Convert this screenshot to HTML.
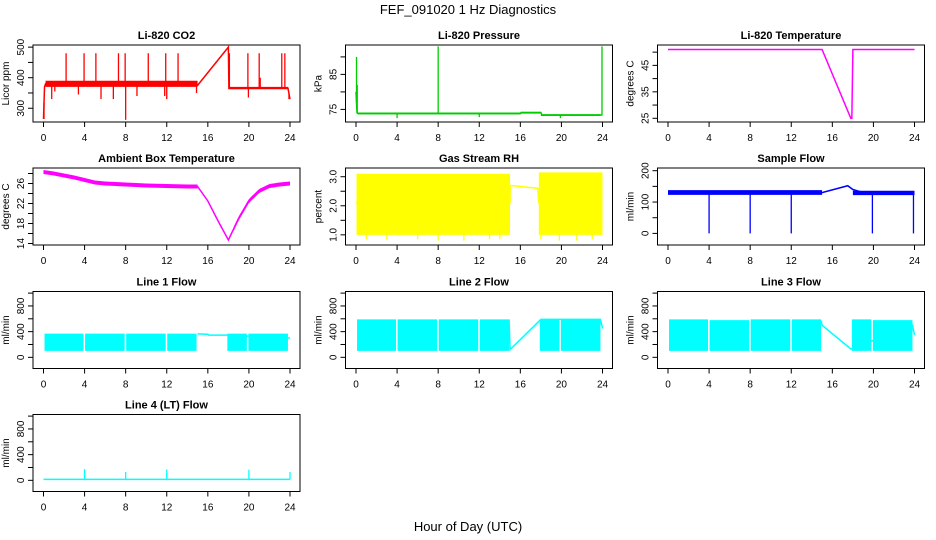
<!DOCTYPE html>
<html><head><meta charset="utf-8">
<style>
html,body{margin:0;padding:0;background:#fff;}
svg{display:block;font-family:"Liberation Sans",sans-serif;}
</style></head>
<body>
<svg id="fig" width="936" height="540" viewBox="0 0 936 540" xmlns="http://www.w3.org/2000/svg">
<rect width="936" height="540" fill="#fff"/>
<text x="468" y="14" text-anchor="middle" font-size="13">FEF_091020  1 Hz Diagnostics</text>
<text x="468" y="531" text-anchor="middle" font-size="13">Hour of Day (UTC)</text>
</svg>
<script>
const xTicks = [0,4,8,12,16,20,24];

// ---- CO2 ----
const co2LineH = [0,0.1,0.2,15,18,18.05,23.8,24];
const co2LineV = [265,370,380,375,500,365,366,330];
const co2Bands = [[0.2,15,370,390],[18.05,23.8,362,370]];
const co2SpikeH = [0.05,2.2,3.95,5.1,7.3,7.95,8,10.2,11.9,13.1,5.6,3.4,6.8,12,14.9,0.8,18.1,19.9,19.95,21,21.1,23.2,23.5,23.9,1.1,9.1,11.8];
const co2SpikeV = [265,480,480,480,480,480,262,480,480,480,330,345,330,330,350,330,480,480,335,480,400,480,480,330,355,340,340];
// ---- Pressure ----
const presLineH = [0,0.1,0.2,16,16.1,18,18.1,24];
const presLineV = [80,74,73.8,73.8,74.1,74.1,73.4,73.4];
const presBands = [[0.2,16,73.6,74.1],[16,18,73.8,74.3],[18,23.8,73.1,73.6]];
const presSpikeH = [0.05,0.12,8,23.95,4,12,19.9];
const presSpikeV = [90,82,93,93,72.5,72.8,72.5];
// ---- Li-820 Temperature ----
const ltLineH = [0,15,17.8,17.9,18,24];
const ltLineV = [51,51,25,25,51,51];
// ---- Ambient ----
const ambH = [0,1,2,3,4,5,6,8,10,12,14,15,16,17,18,19,20,21,22,23,24];
const ambV = [28.3,28,27.6,27.2,26.7,26.2,26,25.8,25.6,25.5,25.4,25.4,22.5,18.5,14.7,19,22.5,24.5,25.5,25.8,26];
const ambBands = [[0,15,-0.4,0.4],[18.5,24,-0.4,0.4]];
// ---- RH ----
const rhLineH = [0,15,15.01,17.7,17.8,24];
const rhLineV = [2.1,2.1,2.7,2.6,2.1,2.1];
const rhBands = [[0.05,15,1.0,3.1],[17.8,24,1.0,3.15]];
const rhSpikeH = [1,3,6,8,10.5,13,14,18,19.8,21.5,23];
const rhSpikeV = [0.85,0.85,0.85,0.8,0.8,0.85,0.85,0.85,0.8,0.8,0.85];
// ---- Sample flow ----
const sfLineH = [0,15,17.5,18,19,24];
const sfLineV = [130,130,152,140,130,128];
const sfBands = [[0,15,123,138],[18,24,122,136]];
const sfSpikeH = [4,8,12,19.9,23.9];
const sfSpikeV = [0,0,0,0,0];
// ---- Line 1 ----
const l1LineH = [15,16,16.1,17,17.8,24];
const l1LineV = [365,360,345,345,345,300];
const l1Bands = [[0.1,3.9,100,370],[4.05,7.9,100,370],[8.05,11.9,100,370],[12.05,14.9,100,370],[17.9,19.8,100,370],[19.95,23.8,100,370]];
// ---- Line 2 ----
const l2LineH = [14.9,15,18,23.8,24];
const l2LineV = [590,120,590,590,450];
const l2Bands = [[0.1,3.9,100,590],[4.05,7.9,100,590],[8.05,11.9,100,590],[12.05,14.9,100,590],[17.9,19.8,100,590],[19.95,23.8,100,590]];
// ---- Line 3 ----
const l3LineH = [14.9,15,17.8,23.8,24];
const l3LineV = [570,500,130,500,350];
const l3Bands = [[0.1,3.9,100,590],[4.05,7.9,100,580],[8.05,11.9,100,590],[12.05,14.9,100,590],[17.9,19.8,100,590],[19.95,23.8,100,580]];
// ---- Line 4 ----
const l4LineH = [0,24];
const l4LineV = [15,15];
const l4SpikeH = [4,8,12,20,24];
const l4SpikeV = [175,130,170,165,130];

const panels = [
 {name:'co2',title:'Li-820 CO2',yt:'Licor ppm',col:0,row:0,ymin:255,ymax:507,ticks:[300,350,400,450,500],labels:[300,400,500],color:'#ff0000',lh:co2LineH,lv:co2LineV,bands:co2Bands,sh:co2SpikeH,sv:co2SpikeV},
 {name:'pressure',title:'Li-820 Pressure',yt:'kPa',col:1,row:0,ymin:71.4,ymax:93.4,ticks:[75,80,85,90],labels:[75,85],color:'#00cc00',lh:presLineH,lv:presLineV,bands:presBands,sh:presSpikeH,sv:presSpikeV},
 {name:'li820-temperature',title:'Li-820 Temperature',yt:'degrees C',col:2,row:0,ymin:23.6,ymax:52.7,ticks:[25,30,35,40,45,50],labels:[25,35,45],color:'#ff00ff',lh:ltLineH,lv:ltLineV,bands:[],sh:[],sv:[]},
 {name:'ambient-temperature',title:'Ambient Box Temperature',yt:'degrees C',col:0,row:1,ymin:13.7,ymax:29.1,ticks:[14,16,18,20,22,24,26,28],labels:[14,18,22,26],color:'#ff00ff',lh:ambH,lv:ambV,bands:ambBands,rel:true,sh:[],sv:[]},
 {name:'gas-stream-rh',title:'Gas Stream RH',yt:'percent',col:1,row:1,ymin:0.65,ymax:3.3,ticks:[1,1.5,2,2.5,3],labels:['1.0','2.0','3.0'],color:'#ffff00',lh:rhLineH,lv:rhLineV,bands:rhBands,sh:rhSpikeH,sv:rhSpikeV},
 {name:'sample-flow',title:'Sample Flow',yt:'ml/min',col:2,row:1,ymin:-37,ymax:208.6,ticks:[0,50,100,150,200],labels:[0,100,200],color:'#0000ff',lh:sfLineH,lv:sfLineV,bands:sfBands,sh:sfSpikeH,sv:sfSpikeV},
 {name:'line1-flow',title:'Line 1 Flow',yt:'ml/min',col:0,row:2,ymin:-174,ymax:1025,ticks:[0,200,400,600,800,1000],labels:[0,400,800],color:'#00ffff',lh:l1LineH,lv:l1LineV,bands:l1Bands,sh:[],sv:[]},
 {name:'line2-flow',title:'Line 2 Flow',yt:'ml/min',col:1,row:2,ymin:-174,ymax:1025,ticks:[0,200,400,600,800,1000],labels:[0,400,800],color:'#00ffff',lh:l2LineH,lv:l2LineV,bands:l2Bands,sh:[],sv:[]},
 {name:'line3-flow',title:'Line 3 Flow',yt:'ml/min',col:2,row:2,ymin:-174,ymax:1025,ticks:[0,200,400,600,800,1000],labels:[0,400,800],color:'#00ffff',lh:l3LineH,lv:l3LineV,bands:l3Bands,sh:[],sv:[]},
 {name:'line4-flow',title:'Line 4 (LT) Flow',yt:'ml/min',col:0,row:3,ymin:-174,ymax:1025,ticks:[0,200,400,600,800,1000],labels:[0,400,800],color:'#00ffff',lh:l4LineH,lv:l4LineV,bands:[],sh:l4SpikeH,sv:l4SpikeV}
];
const colLeft=[33,345.5,657.5], rowTop=[45,168,291.5,414.5], PW=267, PH=77;
const NS='http://www.w3.org/2000/svg';
const svg=document.getElementById('fig');
function mk(tag,attrs,parent){const e=document.createElementNS(NS,tag);for(const k in attrs)e.setAttribute(k,attrs[k]);(parent||svg).appendChild(e);return e;}
function interp(H,V,h){if(h<=H[0])return V[0];for(let i=1;i<H.length;i++){if(h<=H[i]){const t=(h-H[i-1])/(H[i]-H[i-1]||1);return V[i-1]+t*(V[i]-V[i-1]);}}return V[V.length-1];}

panels.forEach(p=>{
 const L=colLeft[p.col],T=rowTop[p.row];
 const xs=h=>L+10.5+h/24*246.5;
 const ys=v=>T+PH-(v-p.ymin)/(p.ymax-p.ymin)*PH;
 const g=mk('g',{});
 
 
 const cg=mk('g',{},g);
 
 
 p.bands.forEach(b=>{
   let pts=[];
   const n=30;
   for(let i=0;i<=n;i++){const h=b[0]+(b[1]-b[0])*i/n;const v=p.rel?interp(p.lh,p.lv,h)+b[3]:b[3];pts.push(xs(h)+','+ys(v));}
   for(let i=n;i>=0;i--){const h=b[0]+(b[1]-b[0])*i/n;const v=p.rel?interp(p.lh,p.lv,h)+b[2]:b[2];pts.push(xs(h)+','+ys(v));}
   const poly=mk('polygon',{points:pts.join(' '),fill:p.color},cg);
   
   
 });
 const lp=p.lh.map((h,i)=>xs(h)+','+ys(p.lv[i])).join(' ');
 const pl=mk('polyline',{points:lp,fill:'none',stroke:p.color,'stroke-width':1.5},cg);
 
 
 p.sh.forEach((h,i)=>{
   const base=interp(p.lh,p.lv,h);
   const s=mk('line',{x1:xs(h),x2:xs(h),y1:ys(base),y2:ys(p.sv[i]),stroke:p.color,'stroke-width':1.3},cg);
   
   
 });
 const box=mk('rect',{x:L,y:T,width:PW,height:PH,fill:'none',stroke:'#000','stroke-width':1},g);
 
 
 const tt=mk('text',{x:L+PW/2,y:T-6,'text-anchor':'middle','font-size':11,'font-weight':'bold'},g);
 tt.textContent=p.title;
 
 
 xTicks.forEach(t=>{
   const tk=mk('line',{x1:xs(t),x2:xs(t),y1:T+PH,y2:T+PH+5,stroke:'#000'},g);
   
   
   const lb=mk('text',{x:xs(t),y:T+PH+19,'text-anchor':'middle','font-size':10},g);
   lb.textContent=t;
   
   
 });
 p.ticks.forEach(t=>{
   const tk=mk('line',{x1:L,x2:L-5,y1:ys(t),y2:ys(t),stroke:'#000'},g);
   
   
 });
 p.labels.forEach(t=>{
   const y=ys(parseFloat(t));
   const lb=mk('text',{x:L-9,y:y,'text-anchor':'middle','font-size':10,transform:'rotate(-90 '+(L-9)+' '+y+')'},g);
   lb.textContent=t;
   
   
 });
 const yc=T+PH/2;
 const yt=mk('text',{x:L-24,y:yc,'text-anchor':'middle','font-size':10,transform:'rotate(-90 '+(L-24)+' '+yc+')'},g);
 yt.textContent=p.yt;
 
 
});
</script>
</body></html>
